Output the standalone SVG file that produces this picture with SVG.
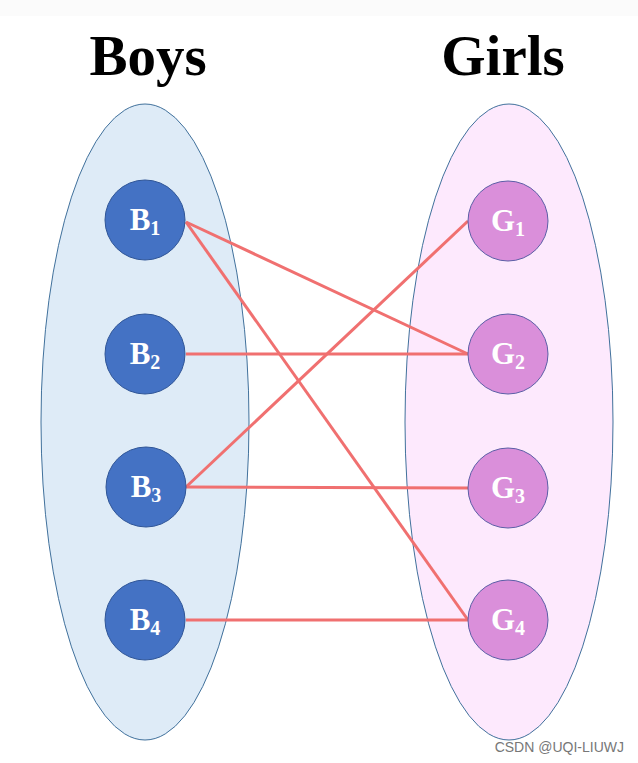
<svg xmlns="http://www.w3.org/2000/svg" width="638" height="763" viewBox="0 0 638 763">
<style>
.title{font-family:"Liberation Serif",serif;font-weight:bold;font-size:57px;fill:#000}
.lab{font-family:"Liberation Serif",serif;font-weight:bold;font-size:31px;fill:#fff}
.sub{font-size:20px}
.boy{fill:#4472c4;stroke:#2f5597;stroke-width:1}
.girl{fill:#da8fda;stroke:#5b5ea6;stroke-width:1}
.edge{stroke:#f07070;stroke-width:3;fill:none}
</style>
<rect x="0" y="0" width="638" height="763" fill="#ffffff"/>
<rect x="0" y="0" width="638" height="16" fill="#fbfbfb"/>
<text class="title" x="148" y="75" text-anchor="middle">Boys</text>
<text class="title" x="503" y="75" text-anchor="middle">Girls</text>
<ellipse cx="145" cy="422" rx="104" ry="318" fill="#deebf7" stroke="#41719c" stroke-width="1"/>
<ellipse cx="509" cy="422" rx="104" ry="318" fill="#fde9fd" stroke="#41719c" stroke-width="1"/>
<g id="edges">
<line class="edge" x1="186" y1="222" x2="468" y2="354"/>
<line class="edge" x1="186" y1="222" x2="468" y2="620"/>
<line class="edge" x1="186" y1="354" x2="468" y2="354"/>
<line class="edge" x1="186" y1="487" x2="468" y2="221"/>
<line class="edge" x1="186" y1="487" x2="468" y2="488"/>
<line class="edge" x1="186" y1="620" x2="468" y2="620"/>
</g>
<g id="B1"><circle class="boy" cx="145" cy="220" r="40"/><text class="lab" x="145" y="230" text-anchor="middle">B<tspan class="sub" dy="5">1</tspan></text></g>
<g id="B2"><circle class="boy" cx="145" cy="354" r="40"/><text class="lab" x="145" y="364" text-anchor="middle">B<tspan class="sub" dy="5">2</tspan></text></g>
<g id="B3"><circle class="boy" cx="146" cy="487" r="40"/><text class="lab" x="146" y="497" text-anchor="middle">B<tspan class="sub" dy="5">3</tspan></text></g>
<g id="B4"><circle class="boy" cx="145" cy="620" r="40"/><text class="lab" x="145" y="630" text-anchor="middle">B<tspan class="sub" dy="5">4</tspan></text></g>
<g id="G1"><circle class="girl" cx="508" cy="221" r="40"/><text class="lab" x="508" y="231" text-anchor="middle">G<tspan class="sub" dy="5">1</tspan></text></g>
<g id="G2"><circle class="girl" cx="508" cy="354" r="40"/><text class="lab" x="508" y="364" text-anchor="middle">G<tspan class="sub" dy="5">2</tspan></text></g>
<g id="G3"><circle class="girl" cx="508" cy="488" r="40"/><text class="lab" x="508" y="498" text-anchor="middle">G<tspan class="sub" dy="5">3</tspan></text></g>
<g id="G4"><circle class="girl" cx="508" cy="620" r="40"/><text class="lab" x="508" y="630" text-anchor="middle">G<tspan class="sub" dy="5">4</tspan></text></g>
<text x="624" y="752" text-anchor="end" font-family="Liberation Sans,sans-serif" font-size="14" fill="#777">CSDN @UQI-LIUWJ</text>
</svg>
